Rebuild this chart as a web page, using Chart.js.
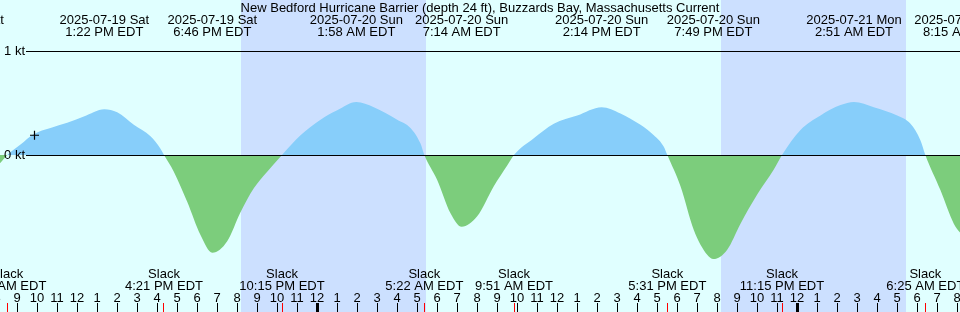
<!DOCTYPE html>
<html><head><meta charset="utf-8">
<script src="https://cdn.jsdelivr.net/npm/chart.js@4.4.1/dist/chart.umd.min.js"></script>
<style>html,body{margin:0;padding:0;background:#e0ffff;overflow:hidden}#wrap{width:960px;height:312px}canvas{display:block}</style>
</head><body><div id="wrap"><canvas id="c" width="960" height="312"></canvas></div>
<script>
// Hours are relative to 2025-07-20 00:00 EDT; values in knots
const TITLE = "New Bedford Hurricane Barrier (depth 24 ft), Buzzards Bay, Massachusetts Current";
const curveHours = [-15.85, -15.483, -14.825, -14.175, -13.325, -12.49, -11.66, -10.633, -9.99, -9.16, -8.325, -7.825, -7.65, -7.16, -6.49, -5.825, -5.233, -4.49, -3.825, -3.16, -2.49, -1.75, -0.825, 0.175, 1.01, 1.967, 2.84, 4.01, 4.675, 5.175, 5.367, 6.01, 6.675, 7.233, 8.01, 8.84, 9.51, 9.85, 10.84, 11.84, 13.01, 14.233, 15.175, 16.175, 16.84, 17.34, 17.517, 18.175, 18.84, 19.51, 19.817, 20.51, 21.175, 22.01, 22.84, 23.25, 24.175, 25.175, 26.175, 26.85, 27.84, 29.01, 29.675, 30.175, 30.417, 31.175, 31.84, 32.25];
const curveKnots = [-0.08, 0, 0.10, 0.20, 0.26, 0.31, 0.37, 0.44, 0.41, 0.29, 0.18, 0.06, 0, -0.16, -0.45, -0.77, -0.94, -0.83, -0.55, -0.32, -0.16, 0, 0.19, 0.34, 0.43, 0.51, 0.46, 0.34, 0.26, 0.11, 0, -0.24, -0.56, -0.69, -0.59, -0.30, -0.10, 0, 0.16, 0.30, 0.38, 0.46, 0.40, 0.29, 0.19, 0.08, 0, -0.30, -0.72, -0.96, -1.00, -0.91, -0.66, -0.38, -0.14, 0, 0.24, 0.38, 0.48, 0.51, 0.46, 0.38, 0.30, 0.14, 0, -0.34, -0.66, -0.77];

const eventHours = [-17.9, -10.633, -5.233, 1.967, 7.233, 14.233, 19.817, 26.85, 32.25];
const eventDates = ["2025-07-19 Sat","2025-07-19 Sat","2025-07-19 Sat","2025-07-20 Sun","2025-07-20 Sun","2025-07-20 Sun","2025-07-20 Sun","2025-07-21 Mon","2025-07-21 Mon"];
const eventTimes = ["6:06 AM EDT","1:22 PM EDT","6:46 PM EDT","1:58 AM EDT","7:14 AM EDT","2:14 PM EDT","7:49 PM EDT","2:51 AM EDT","8:15 AM EDT"];

const slackHours = [-15.483, -7.65, -1.75, 5.367, 9.85, 17.517, 23.25, 30.417];
const slackTimes = ["8:31 AM EDT","4:21 PM EDT","10:15 PM EDT","5:22 AM EDT","9:51 AM EDT","5:31 PM EDT","11:15 PM EDT","6:25 AM EDT"];

const nightStart = [-3.8, 20.2];
const nightEnd = [5.45, 29.45];

const hourTicks = [-16,-15,-14,-13,-12,-11,-10,-9,-8,-7,-6,-5,-4,-3,-2,-1,0,1,2,3,4,5,6,7,8,9,10,11,12,13,14,15,16,17,18,19,20,21,22,23,24,25,26,27,28,29,30,31,32];
const hourLabels = ["8","9","10","11","12","1","2","3","4","5","6","7","8","9","10","11","12","1","2","3","4","5","6","7","8","9","10","11","12","1","2","3","4","5","6","7","8","9","10","11","12","1","2","3","4","5","6","7","8"];
const midnightHours = [0, 24];

const levelKnots = [0, 1];
const levelLabels = ["0 kt", "1 kt"];
const markerHours = [-14.125];
const markerKnots = [0.19];

const xMin = -15.85, xMax = 32.15, yMin = -1.5096, yMax = 1.4904;

const FONT = '13px "Liberation Sans", Arial, sans-serif';

const decor = {
  id: 'decor',
  beforeDraw(chart) {
    const {ctx} = chart; const x = chart.scales.x;
    ctx.save();
    ctx.fillStyle = '#e0ffff';
    ctx.fillRect(0, 0, chart.width, chart.height);
    ctx.fillStyle = '#cce0ff';
    for (let i = 0; i < nightStart.length; i++) {
      const a = Math.round(x.getPixelForValue(nightStart[i]));
      const b = Math.round(x.getPixelForValue(nightEnd[i]));
      ctx.fillRect(a, 0, b - a, chart.height);
    }
    ctx.restore();
  },
  afterDatasetsDraw(chart) {
    const {ctx} = chart; const x = chart.scales.x, y = chart.scales.y;
    ctx.save();
    ctx.fillStyle = '#000';
    ctx.font = FONT;
    for (let i = 0; i < levelKnots.length; i++) {
      const py = Math.floor(y.getPixelForValue(levelKnots[i]));
      ctx.fillRect(26, py, chart.width - 26, 1);
      ctx.textAlign = 'right'; ctx.textBaseline = 'middle';
      ctx.fillText(levelLabels[i], 25, py);
    }
    ctx.textBaseline = 'alphabetic';
    ctx.textAlign = 'center';
    ctx.fillText(TITLE, chart.width / 2, 12);
    for (let i = 0; i < eventHours.length; i++) {
      const px = x.getPixelForValue(eventHours[i]);
      ctx.fillText(eventDates[i], px, 24);
      ctx.fillText(eventTimes[i], px, 36);
    }
    for (let i = 0; i < slackHours.length; i++) {
      const px = x.getPixelForValue(slackHours[i]);
      ctx.fillText("Slack", px, 278);
      ctx.fillText(slackTimes[i], px, 290);
    }
    for (let i = 0; i < hourTicks.length; i++) {
      const px = x.getPixelForValue(hourTicks[i]);
      ctx.fillStyle = '#000';
      ctx.fillText(hourLabels[i], px, 302);
      if (midnightHours.includes(hourTicks[i])) ctx.fillRect(Math.floor(px + 0.001) - 1, 303, 3, 9);
      else ctx.fillRect(Math.floor(px + 0.001), 303, 1, 9);
    }
    ctx.fillStyle = '#ff0000';
    for (let i = 0; i < slackHours.length; i++) {
      const px = x.getPixelForValue(slackHours[i]);
      ctx.fillRect(Math.floor(px), 303, 1, 9);
    }
    ctx.restore();
  }
};

new Chart(document.getElementById('c'), {
  type: 'line',
  data: {
    datasets: [
      {
        label: 'Current',
        order: 1,
        data: curveHours.map((h, i) => ({x: h, y: curveKnots[i]})),
        fill: {target: 'origin', above: '#87cefa', below: '#7ccd7c'},
        borderWidth: 0,
        borderColor: 'rgba(0,0,0,0)',
        pointRadius: 0,
        cubicInterpolationMode: 'monotone'
      },
      {
        label: 'Marker',
        order: 0,
        data: markerHours.map((h, i) => ({x: h, y: markerKnots[i]})),
        showLine: false,
        pointStyle: 'cross',
        pointRadius: 4.5,
        borderColor: '#000',
        backgroundColor: '#000',
        borderWidth: 1.2
      }
    ]
  },
  options: {
    responsive: false,
    animation: false,
    devicePixelRatio: 1,
    events: [],
    layout: {padding: 0, autoPadding: false},
    plugins: {legend: {display: false}, tooltip: {enabled: false}},
    scales: {
      x: {type: 'linear', min: xMin, max: xMax, display: false},
      y: {type: 'linear', min: yMin, max: yMax, display: false}
    }
  },
  plugins: [decor]
});
</script>
</body></html>
